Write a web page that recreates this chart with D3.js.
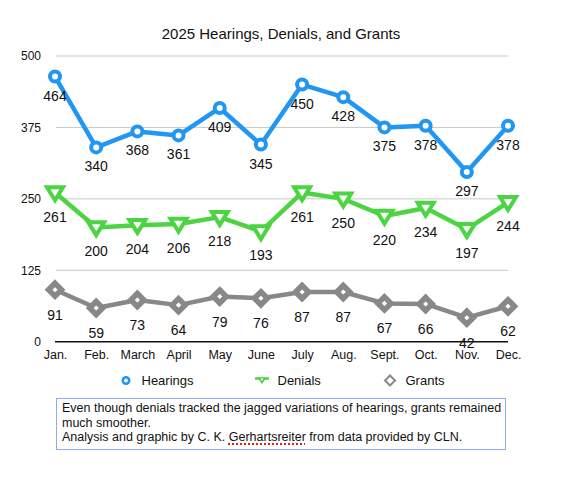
<!DOCTYPE html>
<html>
<head>
<meta charset="utf-8">
<script src="https://cdn.jsdelivr.net/npm/d3@7"></script>
<style>
  body { margin:0; background:#fff; font-family: "Liberation Sans", Arial, Helvetica, sans-serif; }
  #wrap { position:relative; width:586px; height:494px; }
  #note { position:absolute; left:56px; top:398px; width:450px; height:52px; border:1px solid #93a9ee;
          box-sizing:border-box; padding:2px 0 0 5px; font-size:12.5px; line-height:14.5px; color:#111; }
  .sp { text-decoration: underline dotted #e02020; text-decoration-thickness:1.5px; text-underline-offset:2px; }
</style>
</head>
<body>
<div id="wrap"><svg id="chart" width="586" height="494"></svg>
<div id="note">Even though denials tracked the jagged variations of hearings, grants remained much smoother.<br>Analysis and graphic by C. K. <span class="sp">Gerhartsreiter</span> from data provided by CLN.</div>
</div>
<script>
const months = ["Jan.","Feb.","March","April","May","June","July","Aug.","Sept.","Oct.","Nov.","Dec."];
const hearings = [464,340,368,361,409,345,450,428,375,378,297,378];
const denials  = [261,200,204,206,218,193,261,250,220,234,197,244];
const grants   = [91,59,73,64,79,76,87,87,67,66,42,62];
const yTicks = [0,125,250,375,500];
const seriesNames = ["Hearings","Denials","Grants"];

const svg = d3.select("#chart");
const x = d3.scalePoint().domain(months).range([55, 508]).padding(0);
const y = d3.scaleLinear().domain([0,500]).range([341.7, 56]);

svg.append("text").attr("x", 281).attr("y", 38.5).attr("text-anchor","middle")
  .attr("font-size", 15).attr("fill","#111").text("2025 Hearings, Denials, and Grants");

svg.append("g").selectAll("line").data(yTicks.filter(d=>d>0)).join("line")
  .attr("x1", 56).attr("x2", 508).attr("y1", d=>y(d)).attr("y2", d=>y(d))
  .attr("stroke","#c8c8c8").attr("stroke-width",1);

const yAxis = d3.axisLeft(y).tickValues(yTicks).tickSize(0).tickPadding(0);
const gy = svg.append("g").attr("transform","translate(41,0)").call(yAxis);
gy.select(".domain").remove();
gy.selectAll("text").attr("font-size",12).attr("fill","#111").attr("font-family","Liberation Sans, Arial, sans-serif");

const xAxis = d3.axisBottom(x).tickSize(0).tickPadding(8);
const gx = svg.append("g").attr("transform",`translate(0,${y(0)})`).call(xAxis);
gx.select(".domain").attr("stroke","#111").attr("stroke-width",1.5).attr("d","M55,0H508");
gx.selectAll("text").attr("font-size",12.5).attr("fill","#111").attr("font-family","Liberation Sans, Arial, sans-serif");

const cfg = [
  {name:seriesNames[0], data:hearings, color:"#2196f3", marker:"circle", off:24},
  {name:seriesNames[1], data:denials, color:"#4cd443", marker:"tri", off:29},
  {name:seriesNames[2], data:grants, color:"#888888", marker:"diamond", off:30}
];
const line = d3.line().x((d,i)=>x(months[i])).y(d=>y(d));

function drawMarker(g, type, color) {
  if (type==="circle") {
    g.append("circle").attr("r",5).attr("fill","#fff").attr("stroke",color).attr("stroke-width",4);
  } else if (type==="tri") {
    const w=8, h=7;
    g.append("path").attr("d",`M${-w},${-h*0.75}L${w},${-h*0.75}L0,${h*1.1}Z`)
      .attr("fill","#fff").attr("stroke",color).attr("stroke-width",4).attr("stroke-linejoin","miter");
  } else {
    const r=6.5;
    g.append("path").attr("d",`M0,${-r}L${r},0L0,${r}L${-r},0Z`)
      .attr("fill","#fff").attr("stroke",color).attr("stroke-width",5.5).attr("stroke-linejoin","miter");
  }
}

cfg.forEach(c=>{
  const g = svg.append("g");
  g.append("path").datum(c.data).attr("d",line).attr("fill","none")
    .attr("stroke",c.color).attr("stroke-width",4.5).attr("stroke-linejoin","round");
  c.data.forEach((v,i)=>{
    const m = g.append("g").attr("transform",`translate(${x(months[i])},${y(v)})`);
    drawMarker(m, c.marker, c.color);
  });
  g.selectAll("text.lbl").data(c.data).join("text").attr("class","lbl")
    .attr("x",(d,i)=>x(months[i])).attr("y",d=>y(d)+c.off)
    .attr("text-anchor","middle").attr("font-size",14).attr("fill","#111").text(d=>d);
});

const legX = [126, 262, 390];
cfg.forEach((c,i)=>{
  const g = svg.append("g").attr("transform",`translate(${legX[i]},380.5)`);
  if (c.marker==="circle") {
    g.append("circle").attr("r",3.2).attr("fill","#fff").attr("stroke",c.color).attr("stroke-width",2.6);
  } else if (c.marker==="tri") {
    g.append("line").attr("x1",-7).attr("x2",7).attr("y1",-2).attr("y2",-2).attr("stroke",c.color).attr("stroke-width",2.5);
    g.append("path").attr("d","M-4.5,-3L4.5,-3L0,3.5Z").attr("fill",c.color);
    g.append("path").attr("d","M-1.5,-2L1.5,-2L0,0.5Z").attr("fill","#fff");
  } else {
    g.append("path").attr("d","M0,-5L5,0L0,5L-5,0Z").attr("fill","#fff").attr("stroke",c.color).attr("stroke-width",2);
  }
  svg.append("text").attr("x",legX[i]+15.5).attr("y",385).attr("font-size",13).attr("fill","#111").text(c.name);
});
</script>
</body>
</html>
